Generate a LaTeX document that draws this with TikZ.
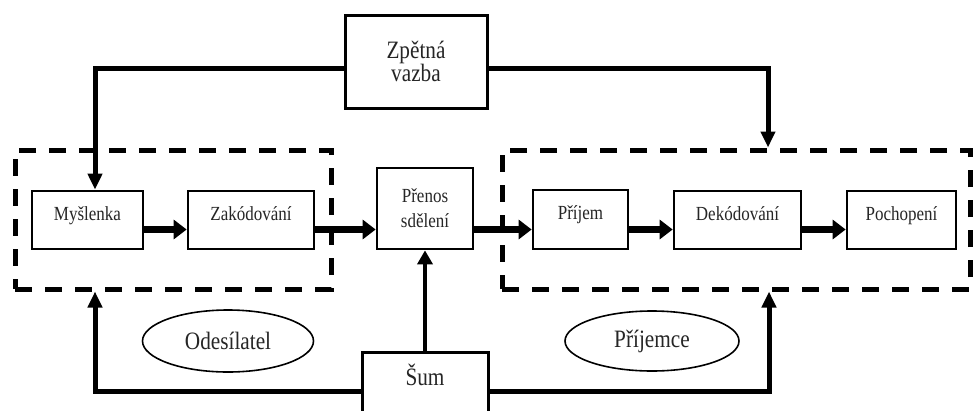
\documentclass[tikz,border=0pt]{standalone}
\usepackage{fontspec}
\setmainfont{Liberation Serif}[FakeStretch=0.85]
\usetikzlibrary{arrows.meta,shapes.geometric}

\tikzset{
  stepbox/.style={draw, line width=2.7pt, inner sep=0pt, align=center,
    font=\fontsize{20}{25}\selectfont, text=black!85},
  oneline/.style={text height=10pt, text depth=10pt},
  bigbox/.style={draw, line width=3pt, inner sep=0pt, align=center,
    font=\fontsize{25}{23}\selectfont, text=black!85},
  groupbox/.style={draw, line width=5pt, dash pattern=on 17pt off 13pt, inner sep=0pt},
  rolebubble/.style={draw, ellipse, line width=1.6pt, inner sep=0pt,
    font=\fontsize{25}{25}\selectfont, text=black!85},
  conn/.style={line width=5pt, -{Triangle[length=16pt,width=14pt]}},
  thinconn/.style={line width=4pt, -{Triangle[length=14pt,width=15pt]}},
  flow/.style={line width=7.5pt, -{Triangle[length=13pt,width=19pt]}},
}

\begin{document}
\begin{tikzpicture}[x=1pt,y=-1pt]
  \fill[white] (0,0) rectangle (973,410);
  \useasboundingbox (0,0) rectangle (973,410);
  \clip (0,0) rectangle (973,410);

  % sender and receiver groups
  \node[groupbox, minimum width=316, minimum height=139] (sender) at (173,219.5) {};
  \node[groupbox, minimum width=468, minimum height=139] (recv) at (736,219.5) {};

  % process steps
  \node[stepbox, oneline, minimum width=111, minimum height=58] (mys) at (87.5,220) {Myšlenka};
  \node[stepbox, oneline, minimum width=126, minimum height=58] (zak) at (251,220) {Zakódování};
  \node[stepbox, minimum width=96, minimum height=81] (pren) at (425,208.5) {Přenos\\sdělení};
  \node[stepbox, oneline, minimum width=95, minimum height=59] (prij) at (580.5,219.5) {Příjem};
  \node[stepbox, oneline, minimum width=127, minimum height=58] (dek) at (737.5,220) {Dekódování};
  \node[stepbox, oneline, minimum width=109, minimum height=58] (poch) at (901.5,220) {Pochopení};

  % feedback and noise
  \node[bigbox, minimum width=142, minimum height=93] (zv) at (416,61.5) {Zpětná\\vazba};
  \node[bigbox, text height=10pt, text depth=22pt, minimum width=126, minimum height=78] (sum) at (425,391) {Šum};

  % roles
  \node[rolebubble, minimum width=171, minimum height=62] (odes) at (228,341) {Odesílatel};
  \node[rolebubble, minimum width=174, minimum height=60] (prijemce) at (652,341) {Příjemce};

  % routing helpers
  \coordinate (fbL) at (95,68);
  \coordinate (fbR) at (768,68);
  \coordinate (nzL) at (95,391);
  \coordinate (nzR) at (769,391);
  \coordinate (flowY) at (0,229.5);

  % main flow
  \draw[flow] (mys.east |- flowY) -- (zak.west |- flowY);
  \draw[flow] (zak.east |- flowY) -- (pren.west |- flowY);
  \draw[flow] (pren.east |- flowY) -- (prij.west |- flowY);
  \draw[flow] (prij.east |- flowY) -- (dek.west |- flowY);
  \draw[flow] (dek.east |- flowY) -- (poch.west |- flowY);

  % feedback loops
  \draw[conn] (zv.west |- fbL) -| (mys.north -| fbL);
  \draw[conn] (zv.east |- fbR) -| (recv.north -| fbR);

  % noise
  \draw[thinconn] (sum.north) -- (pren.south);
  \draw[conn] (sum.west) -| (sender.south -| nzL);
  \draw[conn] (sum.east) -| (recv.south -| nzR);
\end{tikzpicture}
\end{document}
